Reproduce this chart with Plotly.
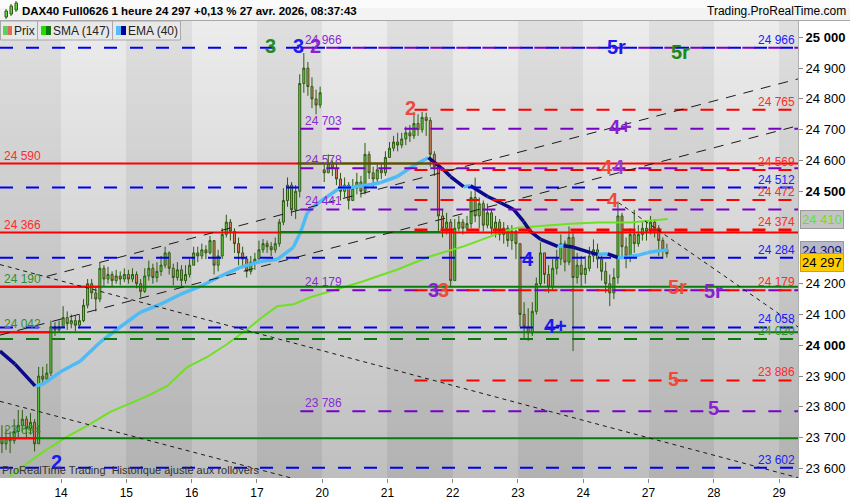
import plotly.graph_objects as go

# ---------------- data ----------------
day_names = ["13", "14", "15", "16", "17", "20", "21", "22", "23", "24", "27"]
tick_labels = ["14", "15", "16", "17", "20", "21", "22", "23", "24", "27", "28", "29"]
BARS_PER_DAY = 16

# hourly closes / highs / lows per trading day (April 2026)
c13 = [23680, 23700, 23690, 23720, 23740, 23760, 23730, 23750, 23680, 23900, 23890, 23910, 24060, 24050, 24060]
h13 = [23740, 23730, 23720, 23760, 23790, 23790, 23770, 23780, 23760, 23930, 23930, 23940, 24080, 24075, 24080]
l13 = [23650, 23660, 23650, 23680, 23700, 23720, 23700, 23710, 23655, 23680, 23870, 23880, 23900, 24030, 24040]

c14 = [24090, 24070, 24080, 24065, 24080, 24130, 24200, 24170, 24150, 24250, 24215, 24230, 24210, 24225, 24215, 24230]
h14 = [24127, 24110, 24100, 24095, 24100, 24150, 24215, 24215, 24190, 24268, 24260, 24255, 24240, 24245, 24240, 24250]
l14 = [24060, 24050, 24055, 24045, 24055, 24075, 24120, 24150, 24110, 24140, 24190, 24200, 24190, 24200, 24195, 24205]

c15 = [24215, 24230, 24200, 24175, 24225, 24250, 24220, 24240, 24260, 24300, 24250, 24220, 24245, 24210, 24230, 24260]
h15 = [24245, 24250, 24240, 24215, 24250, 24275, 24265, 24270, 24290, 24320, 24305, 24265, 24270, 24260, 24260, 24280]
l15 = [24200, 24205, 24185, 24155, 24170, 24210, 24200, 24205, 24225, 24250, 24230, 24195, 24210, 24190, 24200, 24220]

c16 = [24300, 24290, 24310, 24300, 24340, 24260, 24290, 24360, 24400, 24370, 24330, 24300, 24280, 24240, 24270, 24280]
h16 = [24320, 24320, 24330, 24325, 24355, 24340, 24310, 24380, 24424, 24410, 24380, 24350, 24320, 24290, 24290, 24300]
l16 = [24280, 24270, 24280, 24280, 24295, 24230, 24240, 24280, 24350, 24340, 24300, 24260, 24250, 24220, 24230, 24245]

c17 = [24310, 24330, 24320, 24310, 24330, 24400, 24470, 24520, 24440, 24500, 24850, 24900, 24840, 24800, 24780, 24820]
h17 = [24340, 24345, 24340, 24335, 24350, 24410, 24510, 24545, 24530, 24520, 24880, 24949, 24920, 24870, 24830, 24840]
l17 = [24290, 24300, 24300, 24290, 24300, 24320, 24390, 24450, 24420, 24410, 24480, 24820, 24810, 24770, 24750, 24770]

c20 = [24560, 24590, 24575, 24540, 24500, 24520, 24470, 24510, 24530, 24500, 24620, 24560, 24540, 24570, 24560, 24610]
h20 = [24590, 24620, 24600, 24590, 24560, 24545, 24530, 24540, 24560, 24550, 24657, 24630, 24580, 24590, 24590, 24630]
l20 = [24530, 24560, 24550, 24520, 24470, 24480, 24441, 24470, 24490, 24480, 24490, 24540, 24510, 24530, 24540, 24550]

c21 = [24640, 24660, 24650, 24670, 24690, 24680, 24720, 24700, 24740, 24730, 24620, 24580, 24420, 24380, 24400, 24210]
h21 = [24660, 24680, 24690, 24690, 24710, 24715, 24758, 24750, 24758, 24755, 24740, 24630, 24590, 24440, 24430, 24410]
l21 = [24610, 24630, 24630, 24640, 24650, 24660, 24670, 24680, 24690, 24680, 24580, 24550, 24370, 24350, 24360, 24190]

c22 = [24380, 24400, 24380, 24395, 24480, 24420, 24460, 24390, 24430, 24380, 24400, 24360, 24380, 24340, 24370, 24330]
h22 = [24410, 24420, 24410, 24420, 24500, 24544, 24480, 24470, 24460, 24440, 24420, 24410, 24400, 24390, 24390, 24375]
l22 = [24210, 24370, 24360, 24370, 24380, 24400, 24380, 24370, 24380, 24360, 24350, 24340, 24330, 24320, 24310, 24280]

c23 = [24100, 24060, 24040, 24110, 24200, 24300, 24230, 24190, 24250, 24280, 24330, 24270, 24350, 24220, 24260, 24230]
h23 = [24300, 24140, 24120, 24140, 24220, 24334, 24300, 24260, 24280, 24310, 24360, 24340, 24386, 24370, 24300, 24290]
l23 = [24060, 24020, 24014, 24030, 24100, 24190, 24200, 24170, 24180, 24230, 24260, 24240, 24260, 23981, 24200, 24190]

c24 = [24250, 24290, 24310, 24280, 24240, 24200, 24170, 24220, 24420, 24320, 24290, 24360, 24330, 24360, 24380, 24370]
h24 = [24290, 24320, 24344, 24330, 24300, 24270, 24230, 24250, 24467, 24430, 24350, 24380, 24440, 24390, 24400, 24400]
l24 = [24200, 24240, 24270, 24250, 24210, 24170, 24127, 24150, 24200, 24280, 24250, 24270, 24300, 24320, 24340, 24340]

c27 = [24400, 24380, 24340, 24310, 24297]
h27 = [24420, 24410, 24390, 24350, 24330]
l27 = [24360, 24350, 24290, 24280, 24285]

first_open = 23700
gap_opens = {"20": 24570}

# moving averages (time in trading-day units, value)
sma_t = [0.202, 0.371, 0.724, 1.092, 1.399, 1.752, 2.319, 2.626, 2.933, 3.239, 3.546, 3.853, 4.098, 4.313,
         4.558, 4.819, 5.126, 5.632, 6.153, 6.660, 7.166, 7.580, 7.779, 7.994, 8.393, 8.807, 9.221, 9.727, 10.294]
sma_v = [23573, 23599, 23654, 23703, 23738, 23784, 23835, 23868, 23929, 23962, 24004, 24052, 24094, 24127,
         24133, 24156, 24175, 24208, 24246, 24289, 24321, 24353, 24369, 24382, 24389, 24395, 24399, 24399, 24410]

ema_t = [0.064, 0.294, 0.601, 0.724, 0.985, 1.291, 1.598, 1.859, 2.212, 2.518, 2.825, 3.132, 3.439, 3.745,
         4.052, 4.313, 4.558, 4.666, 4.773, 4.865, 5.080, 5.279, 5.433, 5.632, 5.893, 6.153, 6.353, 6.506,
         6.629, 6.706, 6.859, 6.966, 7.166, 7.273, 7.534, 7.733, 7.933, 8.086, 8.193, 8.347, 8.607, 8.699,
         8.853, 9.113, 9.221, 9.374, 9.528, 9.620, 9.834, 9.988, 10.187, 10.294]
ema_v = [23981, 23939, 23868, 23874, 23913, 23948, 24010, 24052, 24107, 24133, 24165, 24191, 24224, 24253,
         24272, 24279, 24318, 24366, 24431, 24450, 24483, 24512, 24512, 24518, 24528, 24548, 24577, 24596,
         24609, 24596, 24570, 24548, 24515, 24518, 24483, 24463, 24441, 24402, 24369, 24344, 24321, 24323,
         24318, 24301, 24295, 24297, 24285, 24285, 24292, 24301, 24308, 24309]

# horizontal levels
blue_levels = [24966, 24512, 24284, 24058, 23602]
purple_levels = [24966, 24703, 24575, 24441, 24179, 23786]
red_dash_levels = [24765, 24569, 24472, 24374, 24179, 23886]
red_solid_levels = [24590, 24366]
green_solid_levels = [24190, 24042, 23698]
green_dash_levels = [24020]

# trend lines: (t0, p0, t1, p1)
rising_lines = [(0.785, 24224, 12.29, 24865), (0.064, 24033, 12.29, 24713)]
falling_lines = [(0.064, 24262, 12.29, 23570), (0.064, 23818, 4.51, 23570), (9.54, 24463, 12.30, 24058)]

last_price, last_sma, last_ema = 24297, 24410, 24309
y_ticks = [25000, 24900, 24800, 24700, 24600, 24500, 24200, 24100, 24000, 23900, 23800, 23700, 23600]

# ---------------- geometry helpers ----------------
X_MIN, X_MAX = 0.064, 12.29
Y_MIN, Y_MAX = 23569, 25053
PLOT_W, PLOT_TOP, PLOT_BOT = 798, 21, 478
PLOT_H = PLOT_BOT - PLOT_TOP


def px2t(px):
    return 1 + (px - 61) / 65.2


def py2p(py):
    return Y_MAX - (py - PLOT_TOP) * (Y_MAX - Y_MIN) / PLOT_H


def p2py(p):
    return PLOT_TOP + (Y_MAX - p) * PLOT_H / (Y_MAX - Y_MIN)


def pX(px):
    return px / PLOT_W


def pY(py):
    return (PLOT_BOT - py) / PLOT_H


FONT = "Liberation Sans, Arial, sans-serif"

# ---------------- build candles ----------------
closes_by_day = [c13, c14, c15, c16, c17, c20, c21, c22, c23, c24, c27]
highs_by_day = [h13, h14, h15, h16, h17, h20, h21, h22, h23, h24, h27]
lows_by_day = [l13, l14, l15, l16, l17, l20, l21, l22, l23, l24, l27]

bx, bo, bh, bl, bc = [], [], [], [], []
prev = first_open
for di, name in enumerate(day_names):
    cs, hs, ls = closes_by_day[di], highs_by_day[di], lows_by_day[di]
    start = 1 if name == "13" else 0
    for k, (c, h, l) in enumerate(zip(cs, hs, ls)):
        o = gap_opens.get(name, prev) if k == 0 else prev
        bx.append(di + (k + start + 0.5) / BARS_PER_DAY)
        bo.append(o)
        bc.append(c)
        bh.append(max(h, o, c))
        bl.append(min(l, o, c))
        prev = c

fig = go.Figure()

# background: alternating day bands with a vertical grey gradient (heatmap layer sits below candles)
N_ROWS = 60
band_edges = [X_MIN] + list(range(1, 13)) + [X_MAX]
row_edges = [Y_MIN + (Y_MAX - Y_MIN) * r / N_ROWS for r in range(N_ROWS + 1)]
z = []
for r in range(N_ROWS):
    f = (r + 0.5) / N_ROWS
    row = []
    for j in range(13):
        top, bot = (223, 178) if j % 2 == 0 else (236, 191)
        row.append(bot + (top - bot) * f)
    z.append(row)
fig.add_trace(go.Heatmap(x=band_edges, y=row_edges, z=z, zmin=0, zmax=255,
                         colorscale=[[0, "#000000"], [1, "#ffffff"]], showscale=False,
                         hoverinfo="skip", zsmooth=False))

# candles
fig.add_trace(go.Candlestick(
    x=bx, open=bo, high=bh, low=bl, close=bc,
    increasing=dict(fillcolor="#66d046", line=dict(color="#2c5c12", width=1)),
    decreasing=dict(fillcolor="#e47a66", line=dict(color="#2c5c12", width=1)),
    whiskerwidth=0, hoverinfo="none", showlegend=False))

# SMA
fig.add_trace(go.Scatter(x=sma_t, y=sma_v, mode="lines", line=dict(color="#6fe022", width=2),
                         hoverinfo="skip", showlegend=False))

# EMA coloured by slope
ux, uy, dx, dy = [], [], [], []
for a in range(len(ema_t) - 1):
    seg_x, seg_y = [ema_t[a], ema_t[a + 1], None], [ema_v[a], ema_v[a + 1], None]
    if ema_v[a + 1] >= ema_v[a]:
        ux += seg_x
        uy += seg_y
    else:
        dx += seg_x
        dy += seg_y
fig.add_trace(go.Scatter(x=ux, y=uy, mode="lines", line=dict(color="#4dbcf6", width=3.5),
                         hoverinfo="skip", showlegend=False, connectgaps=False))
fig.add_trace(go.Scatter(x=dx, y=dy, mode="lines", line=dict(color="#0a0a8a", width=3.5),
                         hoverinfo="skip", showlegend=False, connectgaps=False))

shapes = []


def hline(p, x0, x1, color, width=2, dash="solid"):
    shapes.append(dict(type="line", xref="x", yref="y", x0=x0, x1=x1, y0=p, y1=p,
                       line=dict(color=color, width=width, dash=dash)))


DASH = "13px,13px"
PURPLE_START, RED_START = px2t(300), px2t(414)

for p in red_solid_levels:
    hline(p, X_MIN, X_MAX, "#ff0000", 2)
hline(24590, px2t(297), px2t(430), "#0a7a0a", 2)
hline(24368, px2t(280), px2t(440), "#0a7a0a", 2)
for p in green_solid_levels:
    hline(p, X_MIN, X_MAX, "#0a7a0a", 2)
hline(24190, X_MIN, px2t(100), "#ff0000", 2)
hline(24042, X_MIN, px2t(50), "#ff0000", 2)
hline(23698, X_MIN, px2t(35), "#ff0000", 2)
for p in green_dash_levels:
    hline(p, X_MIN, X_MAX, "#0a7a0a", 2, DASH)
for p in blue_levels:
    hline(p, X_MIN, X_MAX, "#0000f0", 2, DASH)
for p in purple_levels:
    hline(p, PURPLE_START, X_MAX, "#7a00c8", 2, DASH)
for p in red_dash_levels:
    hline(p, RED_START, X_MAX, "#ff0000", 3 if p == 24374 else 2, DASH)

for (t0, p0, t1, p1) in rising_lines:
    shapes.append(dict(type="line", xref="x", yref="y", x0=t0, y0=p0, x1=t1, y1=p1,
                       line=dict(color="#1a1a1a", width=1, dash="10px,8px")))
for (t0, p0, t1, p1) in falling_lines:
    shapes.append(dict(type="line", xref="x", yref="y", x0=t0, y0=p0, x1=t1, y1=p1,
                       line=dict(color="#1a1a1a", width=1, dash="4px,4px")))

# header / legend
shapes.append(dict(type="rect", xref="paper", yref="paper", x0=pX(0), x1=pX(850), y0=pY(20.5), y1=pY(0),
                   fillcolor="#f3f3f3", line=dict(width=0), layer="above"))
shapes.append(dict(type="rect", xref="paper", yref="paper", x0=pX(0), x1=pX(850), y0=pY(8), y1=pY(0),
                   fillcolor="#fbfbfb", line=dict(width=0), layer="above"))
shapes.append(dict(type="line", xref="paper", yref="paper", x0=pX(0), x1=pX(850), y0=pY(20.5), y1=pY(20.5),
                   line=dict(color="#a8a8a8", width=1), layer="above"))
tabs = [(0, 37), (37, 112), (112, 180)]
for (a, b) in tabs:
    shapes.append(dict(type="rect", xref="paper", yref="paper", x0=pX(a + 0.5), x1=pX(b + 0.5),
                       y0=pY(40), y1=pY(21), fillcolor="#e8e8e8", line=dict(color="#a8a8a8", width=1),
                       layer="above"))
icons = [(3, 8, "#5ccf5c"), (8, 12, "#e06a60"), (41, 46, "#22dd00"), (46, 51, "#117711"),
         (116, 121, "#55bbff"), (121, 126, "#000099")]
for (a, b, col) in icons:
    shapes.append(dict(type="rect", xref="paper", yref="paper", x0=pX(a), x1=pX(b),
                       y0=pY(35), y1=pY(26), fillcolor=col, line=dict(width=0), layer="above"))
# small candle icon in title
for (a, t, bt) in [(5, 11, 17), (10, 6, 14), (15, 3, 10)]:
    shapes.append(dict(type="line", xref="paper", yref="paper", x0=pX(a + 1), x1=pX(a + 1),
                       y0=pY(bt + 2), y1=pY(t - 2), line=dict(color="#2c5c12", width=1), layer="above"))
    shapes.append(dict(type="rect", xref="paper", yref="paper", x0=pX(a), x1=pX(a + 2.5),
                       y0=pY(bt), y1=pY(t), fillcolor="#66d046", line=dict(color="#2c5c12", width=1),
                       layer="above"))

ann = []


def label(text, t, p, color, size=12, xanchor="left", bold=False, yanchor="bottom", yshift=-1):
    ann.append(dict(text=("<b>%s</b>" % text) if bold else text, x=t, y=p, xref="x", yref="y",
                    xanchor=xanchor, yanchor=yanchor, yshift=yshift, showarrow=False,
                    font=dict(family=FONT, size=size, color=color)))


RED_T, BLUE_T, PURP_T, GREEN_T = "#ff2a2a", "#2020ff", "#8a2bd2", "#2f8f2f"

# left-side level labels
for txt, p, col in [("24 590", 24590, RED_T), ("24 366", 24366, RED_T), ("24 190", 24190, GREEN_T),
                    ("24 042", 24042, GREEN_T), ("23 694", 23698, GREEN_T)]:
    label(txt, px2t(2), p, col)
# purple labels
for txt, p in [("24 966", 24966), ("24 703", 24703), ("24 578", 24575), ("24 441", 24441),
               ("24 179", 24179), ("23 786", 23786)]:
    label(txt, px2t(303), p, PURP_T)
# right labels
for txt, p, col in [("24 966", 24966, BLUE_T), ("24 765", 24765, RED_T), ("24 569", 24569, RED_T),
                    ("24 512", 24512, BLUE_T), ("24 472", 24472, RED_T), ("24 374", 24374, RED_T),
                    ("24 284", 24284, BLUE_T), ("24 179", 24179, RED_T), ("24 058", 24058, BLUE_T),
                    ("24 020", 24020, GREEN_T), ("23 886", 23886, RED_T), ("23 602", 23602, BLUE_T)]:
    label(txt, px2t(796), p, col, xanchor="right")

# wave labels
SAL = "#ee4a3a"
for txt, col, px, py in [("3", "#228b22", 270, 46), ("3", "#2020ee", 298, 46), ("2", "#8a1fd0", 315, 46),
                         ("5r", "#1a1aee", 616, 47), ("5r", "#1a8a1a", 680, 52),
                         ("2", SAL, 410, 108), ("4+", "#8a1fd0", 620, 127),
                         ("4", SAL, 606, 167), ("4", "#9a3ad0", 618, 167), ("4", SAL, 612, 200),
                         ("4", "#1a1aee", 527, 259), ("3", "#8a1fd0", 433, 290), ("3", SAL, 443, 290),
                         ("4+", "#1a1aee", 555, 326), ("5r", SAL, 677, 287), ("5r", "#8a1fd0", 713, 291),
                         ("5-", SAL, 676, 379), ("5", "#8a1fd0", 713, 408), ("2", "#1a1aee", 56, 462)]:
    label(txt, px2t(px), py2p(py), col, size=20, xanchor="center", bold=True, yanchor="middle", yshift=0)


def paper_text(text, px, py, size=12, color="#111111", xanchor="left", bgcolor=None, bordercolor=None):
    d = dict(text=text, x=pX(px), y=pY(py), xref="paper", yref="paper", xanchor=xanchor,
             yanchor="middle", showarrow=False, font=dict(family=FONT, size=size, color=color))
    if bgcolor:
        d.update(bgcolor=bgcolor, bordercolor=bordercolor, borderwidth=1, borderpad=1)
    ann.append(d)


paper_text("<b>DAX40 Full0626 1 heure 24 297 +0,13 % 27 avr. 2026, 08:37:43</b>", 20, 11, size=11.5,
           color="#000000")
paper_text("Trading.ProRealTime.com", 848, 11, size=12, color="#000000", xanchor="right")
paper_text("Prix", 12, 31, size=12, color="#222222")
paper_text("SMA (147)", 51, 31, size=12, color="#222222")
paper_text("EMA (40)", 126, 31, size=12, color="#222222")
paper_text("ProRealTime Trading &nbsp;Historique ajusté aux rollovers", 0, 470, size=11, color="#333333")


# last-value boxes on the price axis (stacked so they do not hide each other)
def fmt(v):
    return "%d %03d" % (v // 1000, v % 1000)


sma_py = p2py(last_sma)
ema_py = p2py(last_ema)
price_py = max(p2py(last_price), ema_py + 12)
paper_text(fmt(last_sma), 800, sma_py, size=13, color="#5ee61e", bgcolor="#c4c4c4", bordercolor="#999999")
paper_text(fmt(last_ema), 800, ema_py, size=13, color="#10106e", bgcolor="#b8b8c6", bordercolor="#999999")
paper_text(fmt(last_price), 800, price_py, size=13, color="#000000", bgcolor="#ffcc00", bordercolor="#d4a000")

tick_text = []
for v in y_ticks:
    s = fmt(v)
    tick_text.append("<b>%s</b>" % s if v % 500 == 0 else s)

fig.update_layout(
    width=850, height=500,
    margin=dict(l=0, r=850 - PLOT_W, t=PLOT_TOP, b=500 - PLOT_BOT, pad=0, autoexpand=False),
    paper_bgcolor="#ffffff", plot_bgcolor="#d0d0d0",
    showlegend=False, hovermode=False,
    shapes=shapes, annotations=ann,
    xaxis=dict(range=[X_MIN, X_MAX], tickvals=list(range(1, 13)), ticktext=tick_labels,
               showgrid=False, zeroline=False, ticks="outside", ticklen=4, tickcolor="#888888",
               tickfont=dict(family=FONT, size=12, color="#000000"), rangeslider=dict(visible=False),
               showline=False, fixedrange=True, automargin=False),
    yaxis=dict(range=[Y_MIN, Y_MAX], side="right", tickvals=y_ticks, ticktext=tick_text,
               showgrid=False, zeroline=False, ticks="outside", ticklen=4, tickcolor="#888888",
               showline=True, linecolor="#b0b0b0", linewidth=1, automargin=False,
               tickfont=dict(family=FONT, size=13, color="#000000"), fixedrange=True),
)

fig.write_html("out.html", config={"displayModeBar": False},
               post_script="document.body.style.margin='0';document.body.style.overflow='hidden';")
